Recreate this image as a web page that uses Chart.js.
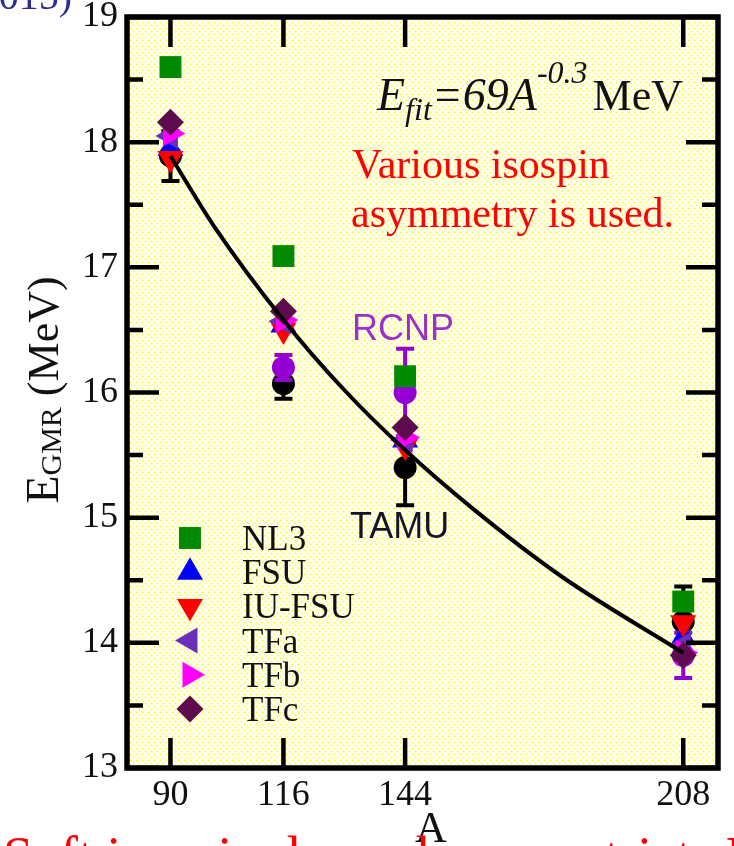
<!DOCTYPE html>
<html>
<head>
<meta charset="utf-8">
<script src="https://cdn.jsdelivr.net/npm/chart.js@4.4.0/dist/chart.umd.min.js"></script>
<style>
  html, body { margin: 0; padding: 0; background: #ffffff; overflow: hidden; }
  #wrap { position: relative; width: 734px; height: 846px; }
</style>
</head>
<body>
<div id="wrap"><canvas id="c" width="734" height="846"></canvas></div>
<script>
// Mass numbers and axis ticks
const massNumbers = [90, 116, 144, 208];
const xTickValues = [90, 116, 144, 208];
const yTickValues = [13, 14, 15, 16, 17, 18, 19];

// Calculated GMR centroid energies (MeV) for each interaction
const nl3   = [18.60, 17.09, 16.13, 14.33];
const fsu   = [17.95, 16.54, 15.62, 14.04];
const iufsu = [17.87, 16.50, 15.57, 14.16];
const tfa   = [18.05, 16.57, 15.62, 13.98];
const tfb   = [18.07, 16.58, 15.64, 13.92];
const tfc   = [18.16, 16.65, 15.72, 13.90];

// Measured values with uncertainties
const tamuA   = [90, 116, 144, 208];
const tamuE   = [17.89, 16.07, 15.40, 14.17];
const tamuErr = [0.20, 0.12, 0.30, 0.28];
const rcnpA   = [116, 144, 208];
const rcnpE   = [16.20, 16.00, 13.90];
const rcnpErr = [0.10, 0.35, 0.18];

// Fit curve E_fit = 69 A^-0.3 MeV, sampled
const fitA = [90, 100, 116, 130, 144, 160, 180, 208];
const fitE = [17.89, 17.33, 16.58, 16.02, 15.54, 15.06, 14.53, 13.92];

// Legend entries
const legendNames = ['NL3', 'FSU', 'IU-FSU', 'TFa', 'TFb', 'TFc'];

const SERIF = '"Liberation Serif", "Times New Roman", serif';
const SANS = '"Liberation Sans", Arial, sans-serif';

const toXY = (xs, ys) => xs.map((x, i) => ({ x: x, y: ys[i] }));

const modelStyles = [
  { data: nl3,   color: '#008a00', style: 'rect',     rotation: 0,   radius: 15.5, order: 6 },
  { data: fsu,   color: '#0000ff', style: 'triangle', rotation: 0,   radius: 15,   order: 5 },
  { data: iufsu, color: '#ff0000', style: 'triangle', rotation: 180, radius: 15,   order: 4 },
  { data: tfa,   color: '#6a2fb8', style: 'triangle', rotation: 270, radius: 15,   order: 3 },
  { data: tfb,   color: '#ff00ff', style: 'triangle', rotation: 90,  radius: 15,   order: 2 },
  { data: tfc,   color: '#5e0a4e', style: 'rectRot',  rotation: 0,   radius: 13.5, order: 1 }
];

const datasets = [];
datasets.push({
  label: 'fit',
  data: toXY(fitA, fitE),
  showLine: true,
  borderColor: '#000000',
  borderWidth: 4,
  pointRadius: 0,
  cubicInterpolationMode: 'monotone',
  fill: false,
  order: 0
});
modelStyles.forEach((m, i) => {
  datasets.push({
    label: legendNames[i],
    data: toXY(massNumbers, m.data),
    showLine: false,
    pointStyle: m.style,
    rotation: m.rotation,
    pointRadius: m.radius,
    backgroundColor: m.color,
    borderColor: m.color,
    pointBorderWidth: 0,
    order: m.order
  });
});
datasets.push({
  label: 'RCNP',
  data: toXY(rcnpA, rcnpE),
  errors: rcnpErr,
  errColor: '#9400d3',
  showLine: false,
  pointStyle: 'circle',
  pointRadius: 11.5,
  backgroundColor: '#9400d3',
  borderColor: '#9400d3',
  pointBorderWidth: 0,
  order: 7
});
datasets.push({
  label: 'TAMU',
  data: toXY(tamuA, tamuE),
  errors: tamuErr,
  errColor: '#000000',
  showLine: false,
  pointStyle: 'circle',
  pointRadius: 11.5,
  backgroundColor: '#000000',
  borderColor: '#000000',
  pointBorderWidth: 0,
  order: 8
});

// Dotted yellow fill of the plotting area
function makePattern(ctx) {
  const t = document.createElement('canvas');
  t.width = 6; t.height = 6;
  const g = t.getContext('2d');
  g.fillStyle = '#fffff4';
  g.fillRect(0, 0, 6, 6);
  g.fillStyle = '#ffff22';
  g.beginPath(); g.arc(1.5, 1.5, 0.9, 0, Math.PI * 2); g.fill();
  g.beginPath(); g.arc(4.5, 4.5, 0.9, 0, Math.PI * 2); g.fill();
  return ctx.createPattern(t, 'repeat');
}

const backgroundPlugin = {
  id: 'areaBackground',
  beforeDraw(chart) {
    const { ctx, chartArea: a } = chart;
    ctx.save();
    ctx.fillStyle = makePattern(ctx);
    ctx.fillRect(a.left, a.top, a.right - a.left, a.bottom - a.top);
    ctx.restore();
  }
};

// Vertical error bars with caps, drawn just beneath their own markers
const errorBarPlugin = {
  id: 'errorBars',
  beforeDatasetDraw(chart, args) {
    const ds = chart.data.datasets[args.index];
    if (!ds.errors) return;
    const { ctx } = chart;
    const xs = chart.scales.x, ys = chart.scales.y;
    ctx.save();
    ctx.strokeStyle = ds.errColor;
    ctx.lineWidth = 4;
    ds.data.forEach((p, i) => {
      const px = xs.getPixelForValue(p.x);
      const top = ys.getPixelForValue(p.y + ds.errors[i]);
      const bot = ys.getPixelForValue(p.y - ds.errors[i]);
      ctx.beginPath();
      ctx.moveTo(px, top); ctx.lineTo(px, bot);
      ctx.moveTo(px - 9, top); ctx.lineTo(px + 9, top);
      ctx.moveTo(px - 9, bot); ctx.lineTo(px + 9, bot);
      ctx.stroke();
    });
    ctx.restore();
  }
};

// Frame and inward tick marks on all four sides
const framePlugin = {
  id: 'frame',
  afterDatasetsDraw(chart) {
    const { ctx, chartArea: a } = chart;
    const xs = chart.scales.x, ys = chart.scales.y;
    ctx.save();
    ctx.strokeStyle = '#000000';
    ctx.lineWidth = 4.5;
    ctx.beginPath();
    for (let v = yTickValues[0]; v <= yTickValues[yTickValues.length - 1]; v += 0.5) {
      const py = ys.getPixelForValue(v);
      const len = Number.isInteger(v) ? 32 : 16;
      ctx.moveTo(a.left, py); ctx.lineTo(a.left + len, py);
      ctx.moveTo(a.right, py); ctx.lineTo(a.right - len, py);
    }
    xTickValues.forEach(v => {
      const px = xs.getPixelForValue(v);
      ctx.moveTo(px, a.bottom); ctx.lineTo(px, a.bottom - 30);
      ctx.moveTo(px, a.top); ctx.lineTo(px, a.top + 30);
    });
    ctx.stroke();
    ctx.lineWidth = 5.5;
    ctx.strokeRect(a.left, a.top, a.right - a.left, a.bottom - a.top);
    ctx.restore();
  }
};

function drawPointShape(ctx, style, rotation, radius, x, y) {
  if (Chart.helpers && Chart.helpers.drawPoint) {
    Chart.helpers.drawPoint(ctx, { pointStyle: style, rotation: rotation, radius: radius, borderWidth: 0 }, x, y);
  }
}

// Texts: legend, labels, axis titles and notes
const textPlugin = {
  id: 'texts',
  afterDraw(chart) {
    const { ctx } = chart;
    ctx.save();

    // legend
    modelStyles.forEach((m, i) => {
      const cy = 538 + i * 34.2;
      ctx.fillStyle = m.color;
      drawPointShape(ctx, m.style, m.rotation, m.radius, 190, cy);
      ctx.fillStyle = '#111111';
      ctx.font = '35px ' + SERIF;
      ctx.textAlign = 'left';
      ctx.textBaseline = 'alphabetic';
      ctx.fillText(legendNames[i], 242, cy + 12);
    });

    // fit formula
    let x = 377;
    const base = 110;
    const piece = (txt, font, dy) => {
      ctx.font = font;
      ctx.fillText(txt, x, base + dy);
      x += ctx.measureText(txt).width;
    };
    ctx.fillStyle = '#111111';
    ctx.textAlign = 'left';
    piece('E', 'italic 46px ' + SERIF, 0);
    piece('fit', 'italic 32px ' + SERIF, 10);
    piece('=69A', 'italic 46px ' + SERIF, 0);
    piece('-0.3', 'italic 32px ' + SERIF, -27);
    x += 5;
    piece('MeV', '44px ' + SERIF, 0);

    // red note
    ctx.fillStyle = '#ff0000';
    ctx.font = '42px ' + SERIF;
    ctx.fillText('Various isospin', 352, 178);
    ctx.fillText('asymmetry is used.', 351, 227);

    // experiment labels
    ctx.fillStyle = '#9932cc';
    ctx.font = '36px ' + SANS;
    ctx.fillText('RCNP', 352, 340);
    ctx.fillStyle = '#15152a';
    ctx.font = '36px ' + SANS;
    ctx.fillText('TAMU', 350, 538);

    // x title
    ctx.fillStyle = '#111111';
    ctx.font = '44px ' + SERIF;
    ctx.textAlign = 'center';
    ctx.fillText('A', 431, 842);

    // y title with subscript
    ctx.save();
    ctx.translate(58, 390);
    ctx.rotate(-Math.PI / 2);
    const parts = [
      { t: 'E', f: '46px ' + SERIF, dy: 0 },
      { t: 'GMR', f: '30px ' + SERIF, dy: 3 },
      { t: ' (MeV)', f: '44px ' + SERIF, dy: 0 }
    ];
    let total = 0;
    parts.forEach(p => { ctx.font = p.f; p.w = ctx.measureText(p.t).width; total += p.w; });
    let px = -total / 2;
    ctx.textAlign = 'left';
    parts.forEach(p => { ctx.font = p.f; ctx.fillText(p.t, px, p.dy); px += p.w; });
    ctx.restore();

    // clipped headline fragments at the page edges
    ctx.textAlign = 'right';
    ctx.fillStyle = '#2b2b9a';
    ctx.font = '40px ' + SERIF;
    ctx.fillText('(2015)', 72, 9);

    ctx.textAlign = 'left';
    ctx.fillStyle = '#ff0000';
    ctx.font = '54px ' + SERIF;
    ctx.fillText('Soft isospin dependence restricts L', 3, 874);

    ctx.restore();
  }
};

function zeroPadding(s) {
  s.paddingTop = 0; s.paddingBottom = 0; s.paddingLeft = 0; s.paddingRight = 0;
}

new Chart(document.getElementById('c'), {
  type: 'scatter',
  data: { datasets: datasets },
  options: {
    responsive: false,
    animation: false,
    events: [],
    layout: { padding: { top: 17, right: 16, left: 0, bottom: 0 } },
    plugins: { legend: { display: false }, tooltip: { enabled: false } },
    elements: { point: { hoverRadius: 0 } },
    scales: {
      x: {
        type: 'linear',
        min: 80,
        max: 216,
        grid: { display: false, drawTicks: false },
        border: { display: false },
        afterBuildTicks(s) { s.ticks = xTickValues.map(v => ({ value: v })); },
        afterFit(s) { s.height = 78; zeroPadding(s); },
        ticks: {
          autoSkip: false,
          maxRotation: 0,
          padding: 6,
          color: '#111111',
          font: { family: SERIF, size: 36 }
        }
      },
      y: {
        type: 'linear',
        min: 13,
        max: 19,
        grid: { display: false, drawTicks: false },
        border: { display: false },
        afterBuildTicks(s) { s.ticks = yTickValues.map(v => ({ value: v })); },
        afterFit(s) { s.width = 127; zeroPadding(s); },
        ticks: {
          padding: 9,
          color: '#111111',
          font: { family: SERIF, size: 36 }
        }
      }
    }
  },
  plugins: [backgroundPlugin, errorBarPlugin, framePlugin, textPlugin]
});
</script>
</body>
</html>
